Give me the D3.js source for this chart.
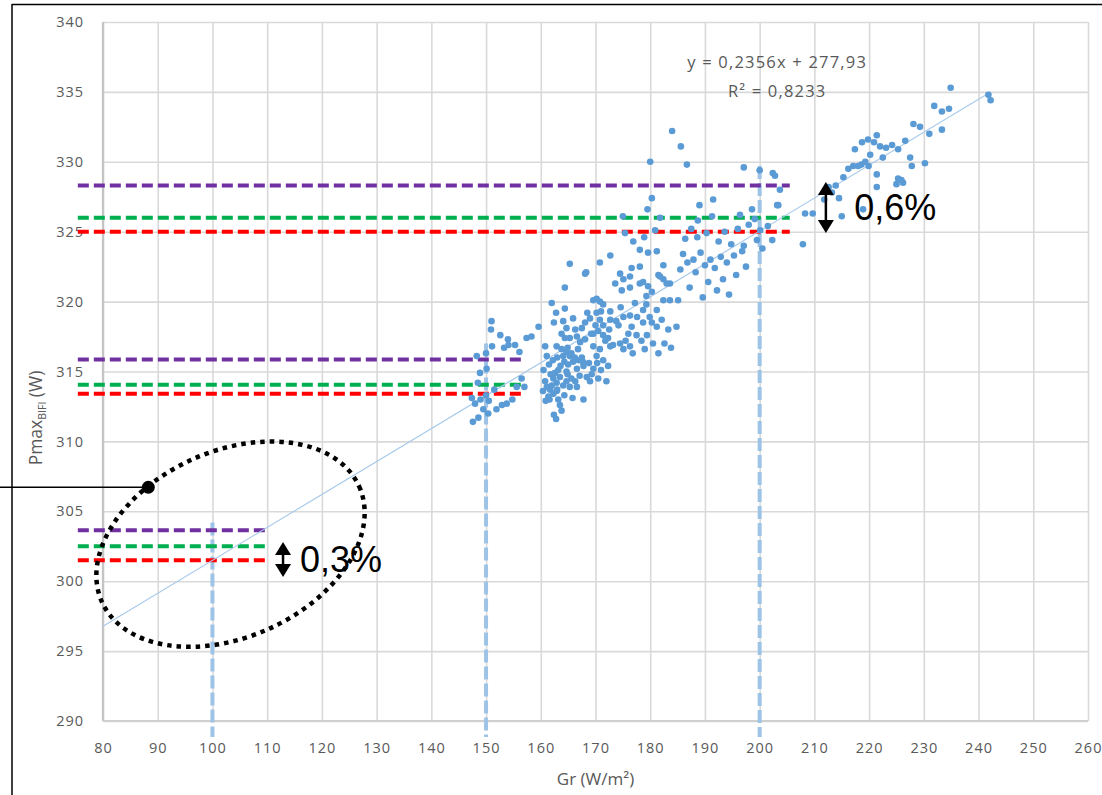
<!DOCTYPE html>
<html>
<head>
<meta charset="utf-8">
<script src="https://cdn.jsdelivr.net/npm/d3@7"></script>
<style>
  html, body { margin: 0; padding: 0; background: #fff; }
  svg { display: block; }
</style>
</head>
<body>
<svg id="chart" width="1102" height="795"></svg>
<script>
// ---- data ----
const xTicks = d3.range(80, 261, 10);
const yTicks = d3.range(290, 341, 5);

// linear fit Pmax = slope * Gr + intercept
const trendSlope = 0.2356;
const trendIntercept = 277.93;
const trendRange = [80, 242.2];
const equationLines = ["y = 0,2356x + 277,93", "R² = 0,8233"];

// measured points [Gr (W/m²), Pmax BIFI (W)]
const scatterPoints = [
  [151.0,318.6],[150.9,318.0],[152.6,317.6],[154.0,317.3],[153.3,316.7],[151.1,316.8],[155.3,316.9],[156.1,316.4],
  [157.4,317.4],[158.3,317.5],[159.6,318.2],[148.9,314.9],[148.5,314.2],[147.4,313.1],[148.0,312.7],[149.5,312.3],
  [150.4,312.0],[151.9,312.3],[152.9,312.6],[153.8,312.7],[147.6,311.4],[148.6,311.7],[156.5,314.5],[155.6,313.9],
  [148.3,316.1],[150.0,316.3],[150.1,315.2],[150.0,313.3],[151.5,313.7],[154.1,316.9],[157.0,313.9],[154.8,313.0],
  [149.0,313.0],[150.5,312.9],
  [160.8,316.8],[161.1,316.1],[160.5,315.1],[160.8,314.3],[161.1,313.9],[161.7,313.7],[161.4,313.2],[162.3,314.5],
  [162.9,314.2],[162.0,314.0],[163.2,313.0],[163.5,312.6],[162.4,311.9],[162.0,319.9],[162.8,319.2],[164.4,319.5],
  [165.3,322.7],[162.4,318.5],[164.1,318.6],[164.7,318.1],[165.9,318.8],[166.3,318.0],[163.8,317.7],[164.4,317.4],
  [165.3,317.4],[166.6,317.5],[167.2,317.1],[168.1,317.3],[162.9,316.8],[163.8,316.6],[164.7,316.4],[164.1,316.1],
  [165.3,316.1],[165.9,315.7],[165.0,315.5],[166.9,315.8],[163.2,315.1],[164.7,315.0],[166.6,315.2],[167.8,315.4],
  [168.4,314.6],[169.0,314.3],[164.7,314.3],[165.3,313.9],[162.9,313.6],[166.6,313.9],[167.8,313.0],[168.1,318.5],
  [169.0,318.8],[170.2,319.2],[170.8,318.7],[171.4,318.3],[172.7,318.7],[169.6,320.1],[170.2,320.2],[170.8,320.0],
  [171.4,319.8],[172.7,319.3],[168.1,322.0],[168.3,322.1],[169.6,317.7],[170.5,317.9],[171.4,317.6],[172.3,317.4],
  [172.7,316.8],[170.8,316.6],[170.2,316.1],[171.4,315.8],[172.3,315.4],[169.6,316.8],[169.3,314.8],[170.5,314.5],
  [172.0,314.3],[173.6,321.3],[174.5,322.0],[175.1,321.6],[176.3,321.8],[176.6,322.4],[178.1,322.5],[174.8,320.8],
  [176.3,321.0],[175.1,318.9],[176.3,319.0],[174.2,318.3],[176.6,318.2],[176.0,317.7],[177.5,317.6],[176.3,316.8],
  [174.5,317.0],[175.1,316.6],[177.2,319.9],[178.7,319.4],[179.3,319.8],[179.9,318.9],[180.3,318.5],[178.7,318.5],
  [181.2,319.4],[182.4,320.1],[182.1,318.7],[178.1,321.3],[178.7,321.4],[179.6,321.1],[180.3,320.7],[179.3,320.4],
  [181.8,321.8],[182.4,321.6],[183.0,321.3],[183.6,321.3],[179.6,323.5],[181.2,323.6],[182.4,322.6],[181.5,321.9],
  [183.6,320.1],[185.1,320.1],[184.8,318.2],[183.3,318.0],[181.2,318.2],[181.5,316.3],[179.0,316.6],
  [161.5,315.5],[162.2,315.8],[163.0,316.0],[163.6,315.4],[164.3,315.7],[164.9,316.7],[165.6,316.3],[166.2,316.0],
  [166.8,316.6],[167.5,316.0],[161.8,314.8],[162.6,314.9],[163.5,314.6],[164.1,314.0],[164.9,314.8],[165.6,314.5],
  [166.3,314.3],[167.1,314.7],[167.7,315.7],[168.8,315.6],[169.6,315.2],[170.3,315.6],[171.0,315.1],[161.6,313.0],
  [162.3,313.4],[163.0,313.7],[164.3,313.3],[165.8,313.1],[160.4,313.6],[160.9,312.9],[163.8,312.2],[162.8,311.6],
  [167.5,318.1],[168.5,319.2],[169.2,317.7],[170.0,318.3],[171.0,319.3],[171.8,317.2],[172.5,318.0],[173.2,316.9],
  [173.8,318.6],[174.6,319.6],[175.5,317.2],[176.8,316.3],[177.6,318.9],[178.4,317.2],[179.4,317.6],[180.5,317.0],
  [182.6,317.0],[183.8,316.7],
  [175.4,324.9],[175.0,326.1],[179.5,326.6],[180.3,327.4],[180.9,325.1],[181.8,326.0],[176.9,324.3],[178.1,323.7],
  [178.9,324.6],[172.7,323.3],[170.8,322.8],[164.4,321.0],[184.0,332.2],[185.6,331.1],[186.7,329.8],[180.0,330.0],
  [185.5,322.3],[186.0,323.4],[186.4,324.5],[186.8,322.8],[187.2,321.0],[187.5,325.2],[187.9,323.0],[188.3,322.1],
  [188.6,324.6],[189.0,326.9],[189.2,323.5],[189.6,320.3],[190.0,322.6],[190.3,324.9],[190.6,321.4],[191.0,323.0],
  [191.3,326.1],[191.5,327.3],[191.8,322.4],[192.2,320.8],[192.5,324.3],[192.9,323.2],[193.3,321.6],[193.6,325.0],
  [194.0,322.8],[194.4,320.5],[194.8,324.1],[195.3,323.3],[195.7,321.9],[196.0,325.2],[196.4,326.2],[196.8,323.6],
  [197.1,324.0],[197.5,322.5],[198.0,325.5],[198.6,326.6],[199.1,325.9],[199.5,324.4],[200.1,325.1],[200.5,323.8],
  [201.5,325.4],[202.3,324.4],[203.2,326.9],[203.7,328.0],[197.1,329.6],[200.0,329.4],[202.4,329.2],[202.8,329.0],
  [188.7,325.8],[203.4,326.9],
  [207.9,324.1],[208.3,326.3],[209.7,326.3],[213.2,327.8],[215.0,326.1],[215.3,328.9],[216.2,329.5],[217.1,329.7],
  [218.0,329.7],[218.6,329.8],[219.3,330.0],[219.9,329.7],[221.4,329.1],[221.4,328.2],[225.0,328.4],[225.9,328.7],
  [226.2,328.5],[227.8,329.7],[230.2,329.9],[218.9,326.6],[226.6,331.5],[228.1,332.7],[229.3,332.5],[231.0,332.0],
  [231.9,334.0],[233.3,333.6],[234.6,333.8],[234.9,335.3],[233.3,332.3],[241.8,334.8],[242.2,334.4],[227.5,330.3],
  [217.4,330.9],[218.7,331.4],[219.8,331.6],[220.9,331.4],[222.0,331.1],[223.1,331.0],[224.2,331.2],[225.3,330.9],
  [220.2,330.5],[222.5,330.3],[221.4,331.9],[213.9,328.3],[214.5,327.4],[211.8,327.3],[212.6,328.2],[225.3,328.8]
];

// reference levels at 100, 150 and 200 W/m² (three groups, one value per colour)
const levelStart = 75.4;
const levelEnds = [110.4, 157.1, 205.5];
const purpleLevels = [303.65, 315.85, 328.3];
const greenLevels = [302.5, 314.05, 326.0];
const redLevels = [301.5, 313.4, 325.0];
const levelColors = ["#7030a0", "#00b050", "#ff0000"];

// vertical guides at the chosen irradiances
const guideX = [100, 150, 200];
const guideTop = [304.2, 317.0, 329.7];
const guideBottom = 288.85;

// spread annotations
const spreadLabels = ["0,3%", "0,6%"];
const spreadArrowX = [112.9, 212.1];
const spreadArrowTop = [302.8, 328.55];
const spreadArrowBottom = [300.3, 324.9];
const spreadLabelX = [116.0, 217.3];
const spreadLabelY = [300.66, 325.84];

// highlighted low-irradiance zone
const zoneCenter = [103.3, 302.65];
const zoneMarker = [88.28, 306.72];

// ---- drawing ----
const W = 1102, H = 795;
const svg = d3.select("#chart");
const x = d3.scaleLinear().domain([80, 260]).range([103, 1088]);
const y = d3.scaleLinear().domain([290, 340]).range([721, 22]);
const FONT = "'Open Sans', 'Liberation Sans', sans-serif";
const GREY = "#595959";

svg.append("rect").attr("width", W).attr("height", H).attr("fill", "#fff");

// gridlines
const gridX = svg.append("g")
  .attr("transform", `translate(0,${y(290)})`)
  .call(d3.axisBottom(x).tickValues(xTicks).tickSize(-(y(290) - y(340))).tickFormat(""));
gridX.select(".domain").remove();
gridX.selectAll("line").attr("stroke", "#d9d9d9").attr("stroke-width", 1.6);

const gridY = svg.append("g")
  .attr("transform", `translate(${x(80)},0)`)
  .call(d3.axisLeft(y).tickValues(yTicks).tickSize(-(x(260) - x(80))).tickFormat(""));
gridY.select(".domain").remove();
gridY.selectAll("line").attr("stroke", "#d9d9d9").attr("stroke-width", 1.6);

// axis lines
svg.append("line").attr("x1", x(80)).attr("x2", x(80)).attr("y1", y(340)).attr("y2", y(290))
  .attr("stroke", "#c4c4c4").attr("stroke-width", 2.2);
svg.append("line").attr("x1", x(80)).attr("x2", x(260)).attr("y1", y(290)).attr("y2", y(290))
  .attr("stroke", "#cfcfcf").attr("stroke-width", 2);

// tick labels
const axX = svg.append("g")
  .attr("transform", `translate(0,${y(290)})`)
  .call(d3.axisBottom(x).tickValues(xTicks).tickSize(0).tickPadding(22).tickFormat(d3.format("d")));
axX.select(".domain").remove();
axX.selectAll("text").attr("fill", GREY).attr("font-size", 14.5).attr("font-family", FONT)
  .style("letter-spacing", "1px");

const axY = svg.append("g")
  .attr("transform", `translate(${x(80)},0)`)
  .call(d3.axisLeft(y).tickValues(yTicks).tickSize(0).tickPadding(19).tickFormat(d3.format("d")));
axY.select(".domain").remove();
axY.selectAll("text").attr("fill", GREY).attr("font-size", 14.5).attr("font-family", FONT)
  .style("letter-spacing", "1px");

// axis titles
svg.append("text")
  .attr("x", (x(80) + x(260)) / 2).attr("y", 785)
  .attr("text-anchor", "middle").attr("fill", GREY)
  .attr("font-size", 17).attr("font-family", FONT)
  .text("Gr (W/m²)");

const yTitle = svg.append("text")
  .attr("transform", "translate(42,418) rotate(-90)")
  .attr("text-anchor", "middle").attr("fill", GREY)
  .attr("font-size", 17.5).attr("font-family", FONT);
yTitle.append("tspan").text("Pmax");
yTitle.append("tspan").attr("font-size", 10.5).attr("dy", 4).text("BIFI");
yTitle.append("tspan").attr("dy", -4).text(" (W)");

// vertical guides
svg.append("g").selectAll("line")
  .data(guideX)
  .join("line")
  .attr("x1", d => x(d)).attr("x2", d => x(d))
  .attr("y1", (d, i) => y(guideTop[i])).attr("y2", y(guideBottom))
  .attr("stroke", "#9dc3e6").attr("stroke-width", 4)
  .attr("stroke-dasharray", "13,4");

// reference level lines
const levelSets = [purpleLevels, greenLevels, redLevels];
levelSets.forEach((vals, c) => {
  svg.append("g").selectAll("line")
    .data(vals)
    .join("line")
    .attr("x1", x(levelStart)).attr("x2", (d, i) => x(levelEnds[i]))
    .attr("y1", d => y(d)).attr("y2", d => y(d))
    .attr("stroke", levelColors[c]).attr("stroke-width", 4)
    .attr("stroke-dasharray", "11,5");
});

// trend line
const trendLine = d3.line().x(d => x(d)).y(d => y(trendSlope * d + trendIntercept));
svg.append("path")
  .datum(trendRange)
  .attr("d", trendLine)
  .attr("fill", "none").attr("stroke", "#a9cbea").attr("stroke-width", 1.2);

// scatter
svg.append("g").selectAll("circle")
  .data(scatterPoints)
  .join("circle")
  .attr("cx", d => x(d[0])).attr("cy", d => y(d[1]))
  .attr("r", 3.3).attr("fill", "#5b9bd5");

// equation
svg.append("g").selectAll("text")
  .data(equationLines)
  .join("text")
  .attr("x", x(203.2)).attr("y", (d, i) => y(336.7) + i * 29)
  .attr("text-anchor", "middle").attr("fill", GREY)
  .attr("font-size", 16.5).attr("font-family", FONT)
  .style("letter-spacing", "1.2px")
  .text(d => d);

// spread arrows and labels
function doubleArrow(cx, yTop, yBot) {
  const hw = 8, hl = 13;
  const g = svg.append("g");
  g.append("line").attr("x1", cx).attr("x2", cx).attr("y1", yTop + hl - 1).attr("y2", yBot - hl + 1)
    .attr("stroke", "#000").attr("stroke-width", 2.5);
  g.append("path").attr("d", `M${cx},${yTop} L${cx - hw},${yTop + hl} L${cx + hw},${yTop + hl} Z`).attr("fill", "#000");
  g.append("path").attr("d", `M${cx},${yBot} L${cx - hw},${yBot - hl} L${cx + hw},${yBot - hl} Z`).attr("fill", "#000");
}
spreadLabels.forEach((lab, i) => {
  doubleArrow(x(spreadArrowX[i]), y(spreadArrowTop[i]), y(spreadArrowBottom[i]));
  svg.append("text")
    .attr("x", x(spreadLabelX[i])).attr("y", y(spreadLabelY[i]))
    .attr("fill", "#000").attr("font-size", 36)
    .attr("font-family", "'Liberation Sans', Arial, sans-serif")
    .text(lab);
});

// low-irradiance zone outline
svg.append("ellipse")
  .attr("cx", 0).attr("cy", 0).attr("rx", 141).attr("ry", 93)
  .attr("transform", `translate(${x(zoneCenter[0])},${y(zoneCenter[1])}) rotate(-24.2)`)
  .attr("fill", "none").attr("stroke", "#000").attr("stroke-width", 4.5)
  .attr("stroke-dasharray", "4.5,5");

svg.append("line")
  .attr("x1", 0).attr("x2", x(zoneMarker[0]))
  .attr("y1", y(zoneMarker[1])).attr("y2", y(zoneMarker[1]))
  .attr("stroke", "#000").attr("stroke-width", 1.5);
svg.append("circle")
  .attr("cx", x(zoneMarker[0])).attr("cy", y(zoneMarker[1])).attr("r", 6.5).attr("fill", "#000");

// frame
svg.append("line").attr("x1", 12).attr("x2", W).attr("y1", 4.5).attr("y2", 4.5)
  .attr("stroke", "#000").attr("stroke-width", 1.5);
svg.append("line").attr("x1", 12).attr("x2", 12).attr("y1", 4).attr("y2", H)
  .attr("stroke", "#000").attr("stroke-width", 1.5);
</script>
</body>
</html>
